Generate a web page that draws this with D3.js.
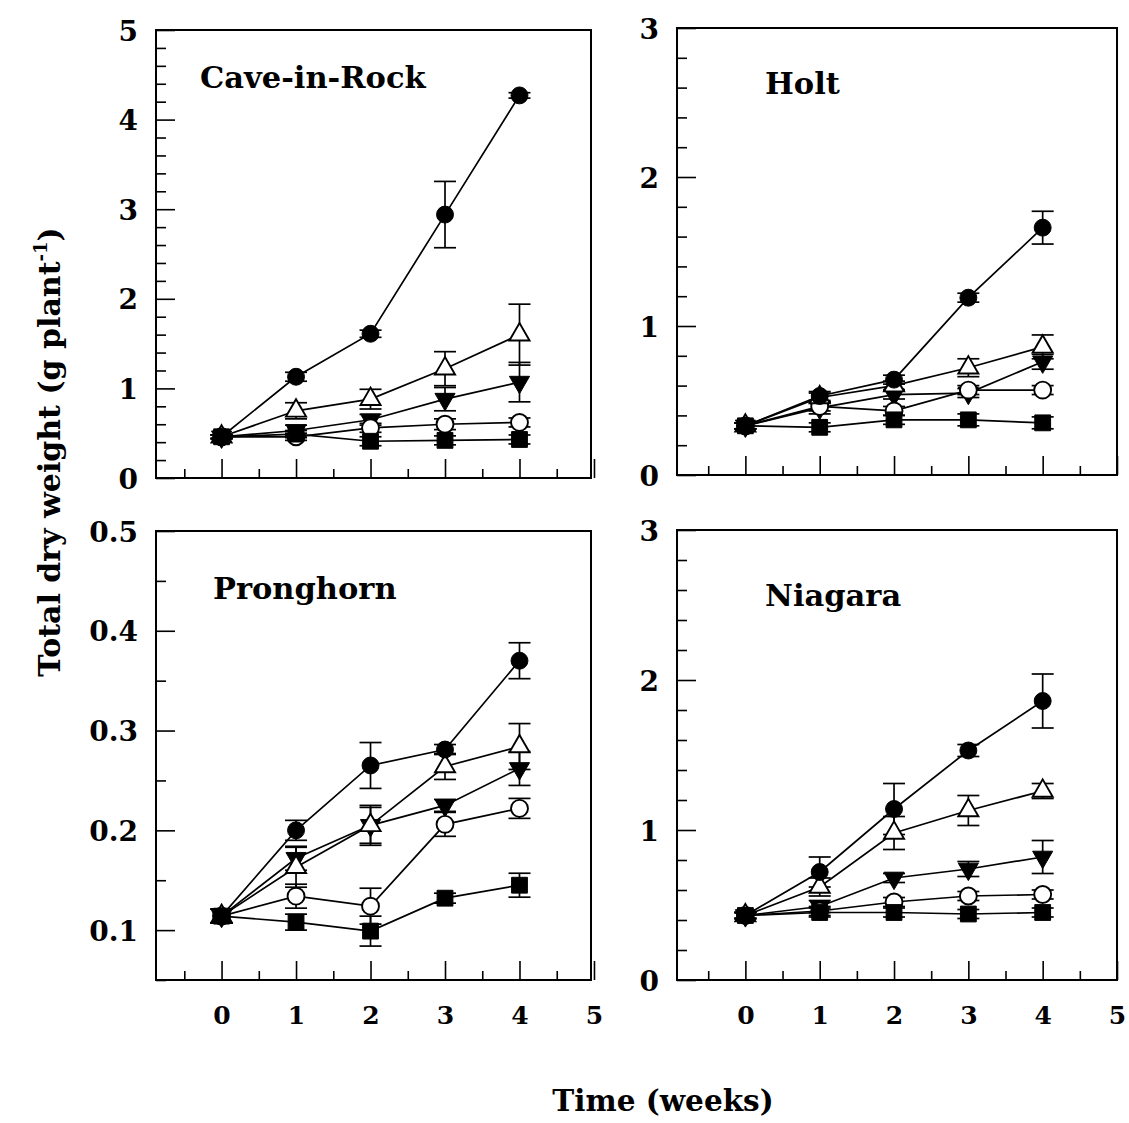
<!DOCTYPE html>
<html>
<head>
<meta charset="utf-8">
<script src="https://cdn.jsdelivr.net/npm/d3@7"></script>
<style>
  body { margin: 0; background: #fff; }
  svg { display: block; }
</style>
</head>
<body>
<script>
// ---- data ---------------------------------------------------------------
const weeks = [0, 1, 2, 3, 4];
const xTickLabels = [0, 1, 2, 3, 4, 5];
const cultivars = ["Cave-in-Rock", "Holt", "Pronghorn", "Niagara"];
// series order: filled circle, open triangle, filled down-triangle, open circle, filled square
const seriesMarkers = ["circleFilled", "triangleOpen", "triangleDownFilled", "circleOpen", "squareFilled"];

const caveInRockMean = [
  [0.46, 1.13, 1.61, 2.94, 4.27],
  [0.46, 0.75, 0.88, 1.22, 1.60],
  [0.46, 0.53, 0.65, 0.88, 1.07],
  [0.46, 0.46, 0.56, 0.60, 0.62],
  [0.46, 0.49, 0.41, 0.42, 0.43]
];
const caveInRockErr = [
  [0.02, 0.05, 0.04, 0.37, 0.03],
  [0.02, 0.09, 0.11, 0.19, 0.34],
  [0.02, 0.06, 0.06, 0.13, 0.22],
  [0.02, 0.04, 0.05, 0.06, 0.05],
  [0.02, 0.04, 0.05, 0.05, 0.05]
];

const holtMean = [
  [0.33, 0.53, 0.64, 1.19, 1.66],
  [0.33, 0.52, 0.60, 0.72, 0.86],
  [0.33, 0.45, 0.54, 0.55, 0.76],
  [0.33, 0.46, 0.43, 0.57, 0.57],
  [0.33, 0.32, 0.37, 0.37, 0.35]
];
const holtErr = [
  [0.02, 0.03, 0.03, 0.03, 0.11],
  [0.02, 0.03, 0.03, 0.06, 0.08],
  [0.02, 0.04, 0.03, 0.03, 0.05],
  [0.02, 0.03, 0.03, 0.03, 0.03],
  [0.02, 0.03, 0.03, 0.04, 0.04]
];

const pronghornMean = [
  [0.114, 0.200, 0.265, 0.281, 0.370],
  [0.114, 0.163, 0.205, 0.264, 0.284],
  [0.114, 0.172, 0.205, 0.225, 0.262],
  [0.114, 0.134, 0.124, 0.206, 0.222],
  [0.114, 0.108, 0.099, 0.132, 0.145]
];
const pronghornErr = [
  [0.007, 0.010, 0.023, 0.005, 0.018],
  [0.007, 0.020, 0.018, 0.013, 0.023],
  [0.007, 0.012, 0.020, 0.006, 0.017],
  [0.007, 0.012, 0.018, 0.012, 0.010],
  [0.007, 0.008, 0.015, 0.005, 0.012]
];

const niagaraMean = [
  [0.43, 0.72, 1.14, 1.53, 1.86],
  [0.43, 0.62, 0.98, 1.13, 1.26],
  [0.43, 0.49, 0.68, 0.74, 0.82],
  [0.43, 0.46, 0.52, 0.56, 0.57],
  [0.43, 0.45, 0.45, 0.44, 0.45]
];
const niagaraErr = [
  [0.02, 0.10, 0.17, 0.04, 0.18],
  [0.02, 0.06, 0.11, 0.10, 0.05],
  [0.02, 0.04, 0.03, 0.05, 0.11],
  [0.02, 0.03, 0.03, 0.03, 0.03],
  [0.02, 0.03, 0.03, 0.03, 0.03]
];

const yDomainCave = [0, 5];
const yDomainHolt = [0, 3];
const yDomainPronghorn = [0.05, 0.5];
const yDomainNiagara = [0, 3];

const yTicksCave = [0, 1, 2, 3, 4, 5];
const yTicksHolt = [0, 1, 2, 3];
const yTicksPronghorn = [0.1, 0.2, 0.3, 0.4, 0.5];
const yTicksNiagara = [0, 1, 2, 3];

const yTickLabelsCave = ["0", "1", "2", "3", "4", "5"];
const yTickLabelsHolt = ["0", "1", "2", "3"];
const yTickLabelsPronghorn = ["0.1", "0.2", "0.3", "0.4", "0.5"];
const yTickLabelsNiagara = ["0", "1", "2", "3"];

const xTitle = "Time (weeks)";
const yTitle = "Total dry weight (g plant";

// ---- layout -------------------------------------------------------------
const W = 1129, H = 1123;
const panels = [
  { name: cultivars[0], mean: caveInRockMean, err: caveInRockErr, dom: yDomainCave,
    ticks: yTicksCave, labels: yTickLabelsCave, minorStep: 0.2,
    x0: 156, x1: 591, xDom: [-0.88, 4.96], yTop: 30, yBot: 478, xLabels: false,
    title: [200, 88] },
  { name: cultivars[1], mean: holtMean, err: holtErr, dom: yDomainHolt,
    ticks: yTicksHolt, labels: yTickLabelsHolt, minorStep: 0.2,
    x0: 677, x1: 1117, xDom: [-0.92, 5.0], yTop: 28, yBot: 475, xLabels: false,
    title: [765, 94] },
  { name: cultivars[2], mean: pronghornMean, err: pronghornErr, dom: yDomainPronghorn,
    ticks: yTicksPronghorn, labels: yTickLabelsPronghorn, minorStep: 0.05,
    x0: 156, x1: 591, xDom: [-0.88, 4.96], yTop: 531, yBot: 980, xLabels: true,
    title: [213, 599] },
  { name: cultivars[3], mean: niagaraMean, err: niagaraErr, dom: yDomainNiagara,
    ticks: yTicksNiagara, labels: yTickLabelsNiagara, minorStep: 0.2,
    x0: 677, x1: 1117, xDom: [-0.92, 5.0], yTop: 530, yBot: 980, xLabels: true,
    title: [765, 606] }
];

// marker stacking, bottom to top: down-triangle, open circle, open triangle, filled circle, square
const drawOrder = [2, 3, 1, 0, 4];

const majorLen = 19, minorLen = 10;
const capHalf = 11;
const serifWide = "'DejaVu Serif', serif";

const svg = d3.select("body").append("svg")
  .attr("width", W).attr("height", H)
  .attr("viewBox", `0 0 ${W} ${H}`);

svg.append("rect").attr("width", W).attr("height", H).attr("fill", "#fff");

function markerPath(kind) {
  if (kind.startsWith("circle")) return d3.symbol(d3.symbolCircle, 225)();
  if (kind.startsWith("triangle")) return d3.symbol(d3.symbolTriangle, 175)();
  return d3.symbol(d3.symbolSquare, 250)();
}

panels.forEach(p => {
  const g = svg.append("g").attr("class", "panel");
  const x = d3.scaleLinear().domain(p.xDom).range([p.x0, p.x1]);
  const y = d3.scaleLinear().domain(p.dom).range([p.yBot, p.yTop]);

  // y minor ticks
  const minors = d3.range(p.dom[0], p.dom[1] + 1e-9, p.minorStep)
    .filter(v => !p.ticks.some(t => Math.abs(t - v) < 1e-6));
  g.append("g")
    .attr("transform", `translate(${p.x0},0)`)
    .call(d3.axisLeft(y).tickValues(minors).tickSizeInner(-minorLen).tickSizeOuter(0).tickFormat(""))
    .call(a => a.select(".domain").remove())
    .selectAll("line").attr("stroke", "#000").attr("stroke-width", 1.6);

  // y major ticks + labels
  g.append("g")
    .attr("transform", `translate(${p.x0},0)`)
    .call(d3.axisLeft(y).tickValues(p.ticks).tickSizeInner(-majorLen).tickSizeOuter(0)
      .tickPadding(18).tickFormat((d, i) => p.labels[i]))
    .call(a => a.select(".domain").remove())
    .call(a => a.selectAll("line").attr("stroke", "#000").attr("stroke-width", 1.6))
    .call(a => a.selectAll("text")
      .attr("fill", "#000")
      .attr("font-family", serifWide)
      .attr("font-weight", "bold")
      .attr("font-size", 28)
      .attr("dy", "0.36em"));

  // x minor ticks
  const xMinors = d3.range(-0.5, 5, 1);
  g.append("g")
    .attr("transform", `translate(0,${p.yBot})`)
    .call(d3.axisBottom(x).tickValues(xMinors).tickSizeInner(-minorLen + 1).tickSizeOuter(0).tickFormat(""))
    .call(a => a.select(".domain").remove())
    .selectAll("line").attr("stroke", "#000").attr("stroke-width", 1.6);

  // x major ticks + labels
  g.append("g")
    .attr("transform", `translate(0,${p.yBot})`)
    .call(d3.axisBottom(x).tickValues(xTickLabels).tickSizeInner(-majorLen).tickSizeOuter(0)
      .tickPadding(26).tickFormat(p.xLabels ? d3.format("d") : ""))
    .call(a => a.select(".domain").remove())
    .call(a => a.selectAll("line").attr("stroke", "#000").attr("stroke-width", 1.6))
    .call(a => a.selectAll("text")
      .attr("fill", "#000")
      .attr("font-family", serifWide)
      .attr("font-weight", "bold")
      .attr("font-size", 25));

  // frame
  g.append("rect")
    .attr("x", p.x0).attr("y", p.yTop)
    .attr("width", p.x1 - p.x0).attr("height", p.yBot - p.yTop)
    .attr("fill", "none").attr("stroke", "#000").attr("stroke-width", 2);

  // panel title
  g.append("text")
    .attr("x", p.title[0]).attr("y", p.title[1])
    .attr("font-family", serifWide).attr("font-weight", "bold")
    .attr("font-size", 30.5).attr("fill", "#000")
    .text(p.name);

  const line = d3.line().x((d, i) => x(weeks[i])).y(d => y(d));

  // connecting lines
  p.mean.forEach(series => {
    g.append("path").datum(series)
      .attr("d", line)
      .attr("fill", "none").attr("stroke", "#000").attr("stroke-width", 1.7);
  });

  // error bars
  p.mean.forEach((series, s) => {
    series.forEach((v, i) => {
      const e = p.err[s][i];
      const cx = x(weeks[i]);
      const yHi = y(v + e), yLo = y(v - e);
      const eb = g.append("g").attr("stroke", "#000").attr("stroke-width", 1.7);
      eb.append("line").attr("x1", cx).attr("x2", cx).attr("y1", yHi).attr("y2", yLo);
      eb.append("line").attr("x1", cx - capHalf).attr("x2", cx + capHalf).attr("y1", yHi).attr("y2", yHi);
      eb.append("line").attr("x1", cx - capHalf).attr("x2", cx + capHalf).attr("y1", yLo).attr("y2", yLo);
    });
  });

  // markers
  drawOrder.forEach(s => {
    const kind = seriesMarkers[s];
    const open = kind.endsWith("Open");
    const rot = kind === "triangleDownFilled" ? 180 : 0;
    g.append("g").selectAll("path")
      .data(p.mean[s])
      .join("path")
      .attr("d", markerPath(kind))
      .attr("transform", (d, i) => `translate(${x(weeks[i])},${y(d)}) rotate(${rot})`)
      .attr("fill", open ? "#fff" : "#000")
      .attr("stroke", "#000")
      .attr("stroke-width", open ? 1.9 : 1);
  });
});

// axis titles
svg.append("text")
  .attr("x", 663).attr("y", 1111)
  .attr("text-anchor", "middle")
  .attr("font-family", serifWide).attr("font-weight", "bold")
  .attr("font-size", 29.5).attr("fill", "#000")
  .text(xTitle);

const yt = svg.append("text")
  .attr("transform", "translate(60,452) rotate(-90)")
  .attr("text-anchor", "middle")
  .attr("font-family", serifWide).attr("font-weight", "bold")
  .attr("font-size", 30).attr("fill", "#000");
yt.append("tspan").text(yTitle);
yt.append("tspan").attr("font-size", 18).attr("dy", -13).text("-1");
yt.append("tspan").attr("dy", 13).text(")");
</script>
</body>
</html>
